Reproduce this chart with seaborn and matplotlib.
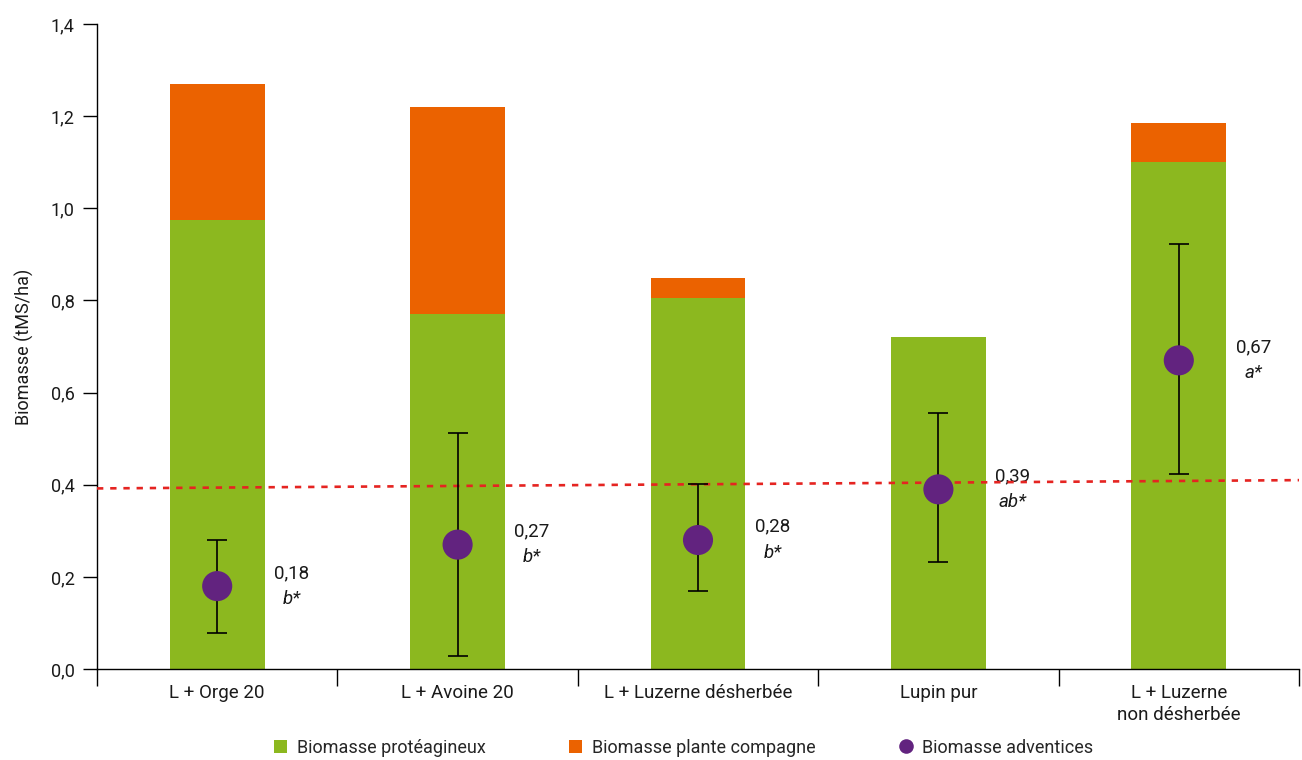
import matplotlib
matplotlib.use("Agg")
import matplotlib.pyplot as plt
from matplotlib.lines import Line2D
from matplotlib.patches import Patch
from matplotlib.ticker import FuncFormatter, FixedLocator
import numpy as np
import pandas as pd
import seaborn as sns

# Data
categories = ["L + Orge 20", "L + Avoine 20", "L + Luzerne désherbée",
              "Lupin pur", "L + Luzerne\nnon désherbée"]
proteagineux = [0.975, 0.77, 0.805, 0.72, 1.10]
plante_compagne = [0.295, 0.45, 0.044, 0.0, 0.085]
adventices = [0.18, 0.27, 0.28, 0.39, 0.67]
adventices_low = [0.078, 0.028, 0.169, 0.232, 0.423]
adventices_high = [0.28, 0.512, 0.402, 0.556, 0.922]
letters = ["b*", "b*", "b*", "ab*", "a*"]
trend_y = [0.392, 0.41]

GREEN = "#8cb81f"
ORANGE = "#eb6200"
PURPLE = "#62237f"
RED = "#e52421"
TEXT = "#1a1a1a"

sns.set_theme(style="ticks")
plt.rcParams["font.family"] = ["Roboto", "DejaVu Sans"]

df = pd.DataFrame({
    "traitement": categories,
    "proteagineux": proteagineux,
    "total": np.array(proteagineux) + np.array(plante_compagne),
    "adventices": adventices,
})

fig = plt.figure(figsize=(13.02, 7.6), dpi=100)
ax = fig.add_axes([0.0745, 0.1197, 0.9232, 0.8487])

# Stacked bars: total (companion plant on top) then legume part over it
sns.barplot(data=df, x="traitement", y="total", color=ORANGE, width=0.395,
            saturation=1, edgecolor="none", ax=ax, order=categories)
sns.barplot(data=df, x="traitement", y="proteagineux", color=GREEN, width=0.395,
            saturation=1, edgecolor="none", ax=ax, order=categories)

xpos = np.arange(len(categories))

# Weed biomass with error bars
ax.errorbar(xpos, adventices,
            yerr=[np.array(adventices) - np.array(adventices_low),
                  np.array(adventices_high) - np.array(adventices)],
            fmt="none", ecolor="black", elinewidth=1.2, capsize=7.5,
            capthick=1.2, zorder=4)
sns.scatterplot(data=df, x="traitement", y="adventices", color=PURPLE, s=470,
                edgecolor="none", ax=ax, zorder=5, legend=False)

# Value and significance labels
for i, (v, lab) in enumerate(zip(adventices, letters)):
    ax.annotate(f"{v:.2f}".replace(".", ","), xy=(i + 0.31, v),
                xytext=(0, 9.5), textcoords="offset points",
                ha="center", va="center", fontsize=13.5, color=TEXT)
    ax.annotate(lab, xy=(i + 0.31, v), xytext=(0, -9), textcoords="offset points",
                ha="center", va="center", fontsize=13.5, style="italic",
                color=TEXT)

ax.set_xlim(-0.5, len(categories) - 0.5)
ax.set_ylim(0, 1.4)

# Overall trend line across the plot
xl = ax.get_xlim()
ax.plot(xl, trend_y, color=RED, linestyle=(0, (2.4, 2.6)), linewidth=1.9,
        zorder=3)
ax.set_xlim(xl)

# Axes styling
ax.set_yticks(np.arange(0, 1.41, 0.2))
ax.yaxis.set_major_formatter(FuncFormatter(lambda v, p: f"{v:.1f}".replace(".", ",")))
ax.tick_params(axis="y", length=10, width=1, color="black", pad=6,
               labelsize=13, labelcolor=TEXT)
ax.set_xticks(xpos)
ax.set_xticklabels(categories, fontsize=13.5, color=TEXT, linespacing=1.25)
ax.tick_params(axis="x", which="major", length=0, pad=11)
ax.xaxis.set_minor_locator(FixedLocator(np.arange(-0.5, len(categories), 1.0)))
ax.tick_params(axis="x", which="minor", length=12, width=1, color="black")
ax.set_xlabel("")
ax.set_ylabel("Biomasse (tMS/ha)", fontsize=13, color=TEXT, labelpad=12)
for s in ["top", "right"]:
    ax.spines[s].set_visible(False)
for s in ["left", "bottom"]:
    ax.spines[s].set_color("black")
    ax.spines[s].set_linewidth(1)

# Legend
handles = [
    Patch(facecolor=GREEN, edgecolor="none", label="Biomasse protéagineux"),
    Patch(facecolor=ORANGE, edgecolor="none", label="Biomasse plante compagne"),
    Line2D([], [], marker="o", linestyle="none", markersize=10.5,
           markerfacecolor=PURPLE, markeredgecolor="none", label="Biomasse adventices"),
]
fig.legend(handles=handles, loc="center", bbox_to_anchor=(0.525, 0.016),
           ncol=3, frameon=False, fontsize=13, handlelength=0.75,
           handleheight=0.75, handletextpad=0.55, columnspacing=4.6)

fig.savefig("out.png", dpi=100)
